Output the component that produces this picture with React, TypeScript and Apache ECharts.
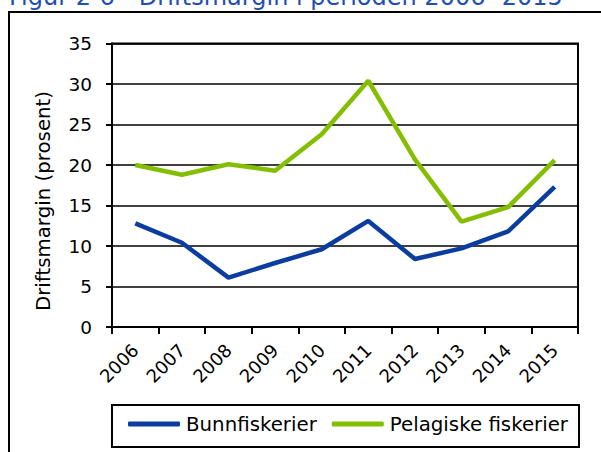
import React, { useEffect, useRef } from "react";
import * as echarts from "echarts";

const years = ["2006", "2007", "2008", "2009", "2010", "2011", "2012", "2013", "2014", "2015"];
const bunnfiskerier = [12.8, 10.4, 6.1, 7.9, 9.6, 13.1, 8.4, 9.7, 11.8, 17.3];
const pelagiske = [20.0, 18.8, 20.1, 19.3, 23.8, 30.4, 20.7, 13.0, 14.8, 20.6];
const yTicks = { min: 0, max: 35, interval: 5 };
const seriesNames = ["Bunnfiskerier", "Pelagiske fiskerier"];
const titleText = "Figur 2-6 - Driftsmargin i perioden 2006 -2015";
const yName = "Driftsmargin (prosent)";

const FONT = "DejaVu Sans";

export default function App() {
  const ref = useRef<HTMLDivElement>(null);
  useEffect(() => {
    if (!ref.current) return;
    const chart = echarts.init(ref.current, null, { renderer: "svg" });
    chart.setOption({
      animation: false,
      backgroundColor: "#fff",
      textStyle: { fontFamily: FONT },
      grid: {
        left: 112,
        top: 43.5,
        width: 466,
        height: 283.5,
        show: true,
        borderColor: "#000",
        borderWidth: 2,
        backgroundColor: "transparent",
      },
      legend: {
        left: 128,
        top: 414,
        padding: 0,
        itemWidth: 52,
        itemHeight: 5,
        itemGap: 15,
        icon: "roundRect",
        textStyle: { fontFamily: FONT, fontSize: 19.8, color: "#000", padding: [0, 0, 0, 1] },
        data: seriesNames,
      },
      xAxis: {
        type: "category",
        data: years,
        boundaryGap: true,
        axisLine: { show: true, lineStyle: { color: "#000", width: 2 } },
        axisTick: { show: true, length: 7, lineStyle: { color: "#000", width: 2 } },
        axisLabel: { rotate: 45, margin: 20, fontSize: 18, color: "#000", fontFamily: FONT },
        splitLine: { show: false },
      },
      yAxis: {
        type: "value",
        min: yTicks.min,
        max: yTicks.max,
        interval: yTicks.interval,
        axisLine: { show: true, lineStyle: { color: "#000", width: 2 } },
        axisTick: { show: true, length: 6, lineStyle: { color: "#000", width: 2 } },
        axisLabel: { margin: 20, fontSize: 18.5, color: "#000", fontFamily: FONT },
        splitLine: { show: true, lineStyle: { color: "#000", width: 1.5 } },
      },
      series: [
        {
          name: seriesNames[0],
          type: "line",
          data: bunnfiskerier,
          symbol: "none",
          color: "#0B3D9F",
          lineStyle: { width: 4.5, color: "#0B3D9F" },
        },
        {
          name: seriesNames[1],
          type: "line",
          data: pelagiske,
          symbol: "none",
          color: "#84BE00",
          lineStyle: { width: 4.5, color: "#84BE00" },
        },
      ],
      graphic: [
        {
          type: "rect",
          shape: { x: 9, y: 12, width: 700, height: 600 },
          style: { fill: "none", stroke: "#000", lineWidth: 2 },
          silent: true,
        },
        {
          type: "rect",
          shape: { x: 112, y: 405, width: 467, height: 42 },
          style: { fill: "none", stroke: "#000", lineWidth: 2 },
          silent: true,
        },
        {
          type: "text",
          x: 9,
          y: 9,
          style: {
            text: titleText,
            fontFamily: FONT,
            fontSize: 24,
            fill: "#1F4FB0",
            align: "left",
            verticalAlign: "bottom",
          },
          silent: true,
        },
        {
          type: "text",
          x: 43.5,
          y: 201,
          rotation: Math.PI / 2,
          style: {
            text: yName,
            fontFamily: FONT,
            fontSize: 19.8,
            fill: "#000",
            align: "center",
            verticalAlign: "middle",
          },
          silent: true,
        },
      ],
    });
    return () => chart.dispose();
  }, []);
  return (
    <div
      ref={ref}
      style={{ position: "fixed", left: 0, top: 0, width: 601, height: 452 }}
    />
  );
}
